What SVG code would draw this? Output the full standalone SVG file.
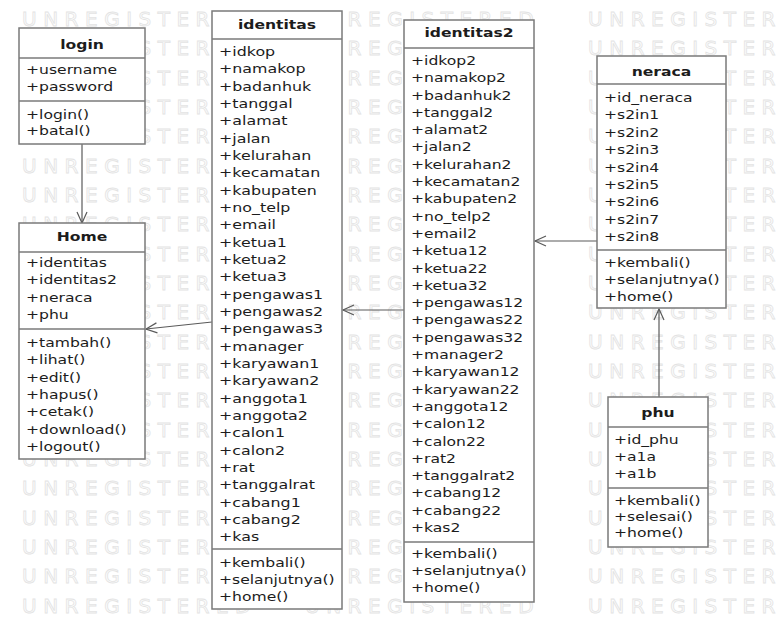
<svg xmlns="http://www.w3.org/2000/svg" width="777" height="626" viewBox="0 0 777 626">
  <style>
    .box{fill:#fff;stroke:#7a7a7a;stroke-width:1.5}
    .sep{stroke:#7a7a7a;stroke-width:1.5}
    .t{font-family:"DejaVu Sans",sans-serif;font-size:13px;fill:#1c1c1c}
    .h{font-weight:bold;text-anchor:middle}
    .wm{font-family:"DejaVu Sans",sans-serif;font-size:20px;fill:#fdfdfd;stroke:#e3e3e3;stroke-width:0.8;letter-spacing:6.5px}
    .con{stroke:#5a5a5a;stroke-width:1.2;fill:none;marker-end:url(#open)}
  </style>
  <defs>
    <marker id="open" markerUnits="userSpaceOnUse" markerWidth="14" markerHeight="12" refX="12" refY="6" orient="auto">
      <path d="M1,1 L12,6 L1,11" fill="none" stroke="#5a5a5a" stroke-width="1.2"/>
    </marker>
  </defs>
  <rect width="777" height="626" fill="#fff"/>

  <!-- watermark rows behind the class boxes -->
  <g id="watermark" class="wm">
    <text x="22" y="26">UNREGISTERED<tspan dx="48">UNREGISTERED</tspan><tspan dx="48">UNREGISTERED</tspan></text>
    <text x="22" y="55">UNREGISTERED<tspan dx="48">UNREGISTERED</tspan><tspan dx="48">UNREGISTERED</tspan></text>
    <text x="22" y="85">UNREGISTERED<tspan dx="48">UNREGISTERED</tspan><tspan dx="48">UNREGISTERED</tspan></text>
    <text x="22" y="114">UNREGISTERED<tspan dx="48">UNREGISTERED</tspan><tspan dx="48">UNREGISTERED</tspan></text>
    <text x="22" y="143">UNREGISTERED<tspan dx="48">UNREGISTERED</tspan><tspan dx="48">UNREGISTERED</tspan></text>
    <text x="22" y="173">UNREGISTERED<tspan dx="48">UNREGISTERED</tspan><tspan dx="48">UNREGISTERED</tspan></text>
    <text x="22" y="202">UNREGISTERED<tspan dx="48">UNREGISTERED</tspan><tspan dx="48">UNREGISTERED</tspan></text>
    <text x="22" y="231">UNREGISTERED<tspan dx="48">UNREGISTERED</tspan><tspan dx="48">UNREGISTERED</tspan></text>
    <text x="22" y="261">UNREGISTERED<tspan dx="48">UNREGISTERED</tspan><tspan dx="48">UNREGISTERED</tspan></text>
    <text x="22" y="290">UNREGISTERED<tspan dx="48">UNREGISTERED</tspan><tspan dx="48">UNREGISTERED</tspan></text>
    <text x="22" y="319">UNREGISTERED<tspan dx="48">UNREGISTERED</tspan><tspan dx="48">UNREGISTERED</tspan></text>
    <text x="22" y="349">UNREGISTERED<tspan dx="48">UNREGISTERED</tspan><tspan dx="48">UNREGISTERED</tspan></text>
    <text x="22" y="378">UNREGISTERED<tspan dx="48">UNREGISTERED</tspan><tspan dx="48">UNREGISTERED</tspan></text>
    <text x="22" y="407">UNREGISTERED<tspan dx="48">UNREGISTERED</tspan><tspan dx="48">UNREGISTERED</tspan></text>
    <text x="22" y="437">UNREGISTERED<tspan dx="48">UNREGISTERED</tspan><tspan dx="48">UNREGISTERED</tspan></text>
    <text x="22" y="466">UNREGISTERED<tspan dx="48">UNREGISTERED</tspan><tspan dx="48">UNREGISTERED</tspan></text>
    <text x="22" y="495">UNREGISTERED<tspan dx="48">UNREGISTERED</tspan><tspan dx="48">UNREGISTERED</tspan></text>
    <text x="22" y="525">UNREGISTERED<tspan dx="48">UNREGISTERED</tspan><tspan dx="48">UNREGISTERED</tspan></text>
    <text x="22" y="554">UNREGISTERED<tspan dx="48">UNREGISTERED</tspan><tspan dx="48">UNREGISTERED</tspan></text>
    <text x="22" y="583">UNREGISTERED<tspan dx="48">UNREGISTERED</tspan><tspan dx="48">UNREGISTERED</tspan></text>
    <text x="22" y="613">UNREGISTERED<tspan dx="48">UNREGISTERED</tspan><tspan dx="48">UNREGISTERED</tspan></text>
  </g>

  <!-- associations -->
  <g id="connectors">
    <path class="con" d="M82,144 L82,223"/>
    <path class="con" d="M212,322 L146,329"/>
    <path class="con" d="M404,310 L343,310"/>
    <path class="con" d="M597,241 L535,241"/>
    <path class="con" d="M659,397 L659,309"/>
  </g>

  <g id="login">
    <rect class="box" x="19" y="28" width="126" height="116"/>
    <line class="sep" x1="19" y1="58" x2="145" y2="58"/>
    <line class="sep" x1="19" y1="101" x2="145" y2="101"/>
    <g transform="translate(82,0) scale(1.2,1)"><text class="t h" x="0" y="49">login</text></g>
    <g transform="translate(26,0) scale(1.2,1)">
      <text class="t" y="74"><tspan x="0">+username</tspan><tspan x="0" dy="17">+password</tspan></text>
      <text class="t" y="119"><tspan x="0">+login()</tspan><tspan x="0" dy="16">+batal()</tspan></text>
    </g>
  </g>

  <g id="home">
    <rect class="box" x="19" y="223" width="126" height="236"/>
    <line class="sep" x1="19" y1="252" x2="145" y2="252"/>
    <line class="sep" x1="19" y1="329" x2="145" y2="329"/>
    <g transform="translate(82,0) scale(1.2,1)"><text class="t h" x="0" y="241">Home</text></g>
    <g transform="translate(26,0) scale(1.2,1)">
      <text class="t" y="267"><tspan x="0">+identitas</tspan><tspan x="0" dy="17.5">+identitas2</tspan><tspan x="0" dy="17.5">+neraca</tspan><tspan x="0" dy="17.5">+phu</tspan></text>
      <text class="t" y="347"><tspan x="0">+tambah()</tspan><tspan x="0" dy="17.33">+lihat()</tspan><tspan x="0" dy="17.33">+edit()</tspan><tspan x="0" dy="17.33">+hapus()</tspan><tspan x="0" dy="17.33">+cetak()</tspan><tspan x="0" dy="17.33">+download()</tspan><tspan x="0" dy="17.33">+logout()</tspan></text>
    </g>
  </g>

  <g id="identitas">
    <rect class="box" x="212" y="11" width="130" height="598"/>
    <line class="sep" x1="212" y1="39" x2="342" y2="39"/>
    <line class="sep" x1="212" y1="549" x2="342" y2="549"/>
    <g transform="translate(277,0) scale(1.2,1)"><text class="t h" x="0" y="29">identitas</text></g>
    <g transform="translate(219,0) scale(1.22,1)">
      <text class="t" y="56"><tspan x="0">+idkop</tspan><tspan x="0" dy="17.33">+namakop</tspan><tspan x="0" dy="17.33">+badanhuk</tspan><tspan x="0" dy="17.33">+tanggal</tspan><tspan x="0" dy="17.33">+alamat</tspan><tspan x="0" dy="17.33">+jalan</tspan><tspan x="0" dy="17.33">+kelurahan</tspan><tspan x="0" dy="17.33">+kecamatan</tspan><tspan x="0" dy="17.33">+kabupaten</tspan><tspan x="0" dy="17.33">+no_telp</tspan><tspan x="0" dy="17.33">+email</tspan><tspan x="0" dy="17.33">+ketua1</tspan><tspan x="0" dy="17.33">+ketua2</tspan><tspan x="0" dy="17.33">+ketua3</tspan><tspan x="0" dy="17.33">+pengawas1</tspan><tspan x="0" dy="17.33">+pengawas2</tspan><tspan x="0" dy="17.33">+pengawas3</tspan><tspan x="0" dy="17.33">+manager</tspan><tspan x="0" dy="17.33">+karyawan1</tspan><tspan x="0" dy="17.33">+karyawan2</tspan><tspan x="0" dy="17.33">+anggota1</tspan><tspan x="0" dy="17.33">+anggota2</tspan><tspan x="0" dy="17.33">+calon1</tspan><tspan x="0" dy="17.33">+calon2</tspan><tspan x="0" dy="17.33">+rat</tspan><tspan x="0" dy="17.33">+tanggalrat</tspan><tspan x="0" dy="17.33">+cabang1</tspan><tspan x="0" dy="17.33">+cabang2</tspan><tspan x="0" dy="17.33">+kas</tspan></text>
    </g>
    <g transform="translate(219,0) scale(1.2,1)">
      <text class="t" y="567"><tspan x="0">+kembali()</tspan><tspan x="0" dy="17">+selanjutnya()</tspan><tspan x="0" dy="17">+home()</tspan></text>
    </g>
  </g>

  <g id="identitas2">
    <rect class="box" x="404" y="20" width="130" height="582"/>
    <line class="sep" x1="404" y1="48" x2="534" y2="48"/>
    <line class="sep" x1="404" y1="542" x2="534" y2="542"/>
    <g transform="translate(469,0) scale(1.2,1)"><text class="t h" x="0" y="37">identitas2</text></g>
    <g transform="translate(411,0) scale(1.2,1)">
      <text class="t" y="65"><tspan x="0">+idkop2</tspan><tspan x="0" dy="17.3">+namakop2</tspan><tspan x="0" dy="17.3">+badanhuk2</tspan><tspan x="0" dy="17.3">+tanggal2</tspan><tspan x="0" dy="17.3">+alamat2</tspan><tspan x="0" dy="17.3">+jalan2</tspan><tspan x="0" dy="17.3">+kelurahan2</tspan><tspan x="0" dy="17.3">+kecamatan2</tspan><tspan x="0" dy="17.3">+kabupaten2</tspan><tspan x="0" dy="17.3">+no_telp2</tspan><tspan x="0" dy="17.3">+email2</tspan><tspan x="0" dy="17.3">+ketua12</tspan><tspan x="0" dy="17.3">+ketua22</tspan><tspan x="0" dy="17.3">+ketua32</tspan><tspan x="0" dy="17.3">+pengawas12</tspan><tspan x="0" dy="17.3">+pengawas22</tspan><tspan x="0" dy="17.3">+pengawas32</tspan><tspan x="0" dy="17.3">+manager2</tspan><tspan x="0" dy="17.3">+karyawan12</tspan><tspan x="0" dy="17.3">+karyawan22</tspan><tspan x="0" dy="17.3">+anggota12</tspan><tspan x="0" dy="17.3">+calon12</tspan><tspan x="0" dy="17.3">+calon22</tspan><tspan x="0" dy="17.3">+rat2</tspan><tspan x="0" dy="17.3">+tanggalrat2</tspan><tspan x="0" dy="17.3">+cabang12</tspan><tspan x="0" dy="17.3">+cabang22</tspan><tspan x="0" dy="17.3">+kas2</tspan></text>
      <text class="t" y="558"><tspan x="0">+kembali()</tspan><tspan x="0" dy="17">+selanjutnya()</tspan><tspan x="0" dy="17">+home()</tspan></text>
    </g>
  </g>

  <g id="neraca">
    <rect class="box" x="597" y="56" width="129" height="252"/>
    <line class="sep" x1="597" y1="84" x2="726" y2="84"/>
    <line class="sep" x1="597" y1="250" x2="726" y2="250"/>
    <g transform="translate(661.5,0) scale(1.2,1)"><text class="t h" x="0" y="76">neraca</text></g>
    <g transform="translate(604,0) scale(1.2,1)">
      <text class="t" y="102"><tspan x="0">+id_neraca</tspan><tspan x="0" dy="17.4">+s2in1</tspan><tspan x="0" dy="17.4">+s2in2</tspan><tspan x="0" dy="17.4">+s2in3</tspan><tspan x="0" dy="17.4">+s2in4</tspan><tspan x="0" dy="17.4">+s2in5</tspan><tspan x="0" dy="17.4">+s2in6</tspan><tspan x="0" dy="17.4">+s2in7</tspan><tspan x="0" dy="17.4">+s2in8</tspan></text>
      <text class="t" y="267"><tspan x="0">+kembali()</tspan><tspan x="0" dy="17">+selanjutnya()</tspan><tspan x="0" dy="17">+home()</tspan></text>
    </g>
  </g>

  <g id="phu">
    <rect class="box" x="608" y="397" width="100" height="150"/>
    <line class="sep" x1="608" y1="427" x2="708" y2="427"/>
    <line class="sep" x1="608" y1="488" x2="708" y2="488"/>
    <g transform="translate(658,0) scale(1.2,1)"><text class="t h" x="0" y="417">phu</text></g>
    <g transform="translate(614,0) scale(1.2,1)">
      <text class="t" y="444"><tspan x="0">+id_phu</tspan><tspan x="0" dy="17">+a1a</tspan><tspan x="0" dy="17">+a1b</tspan></text>
      <text class="t" y="505"><tspan x="0">+kembali()</tspan><tspan x="0" dy="16">+selesai()</tspan><tspan x="0" dy="16">+home()</tspan></text>
    </g>
  </g>
</svg>
